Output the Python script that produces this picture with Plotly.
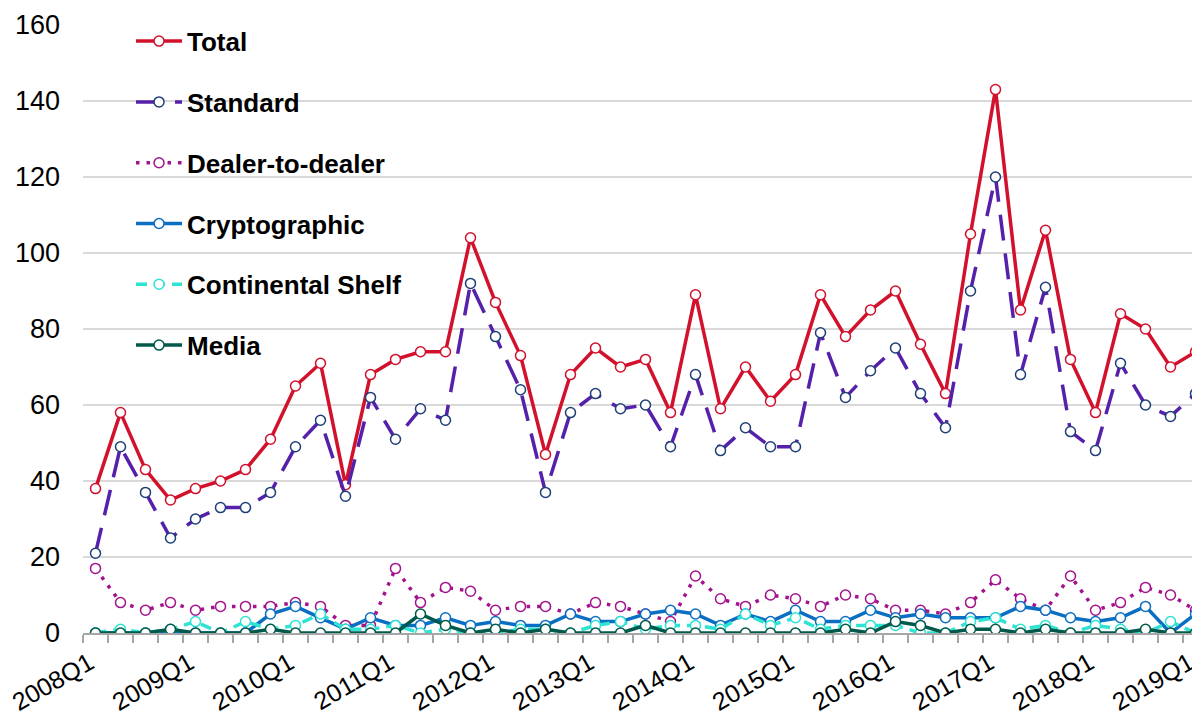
import plotly.graph_objects as go

quarters = [f"{y}Q{q}" for y in range(2008, 2020) for q in range(1, 5)][:45]
tick_labels = ["2008Q1", "2009Q1", "2010Q1", "2011Q1", "2012Q1", "2013Q1",
               "2014Q1", "2015Q1", "2016Q1", "2017Q1", "2018Q1", "2019Q1"]

total = [38, 58, 43, 35, 38, 40, 43, 51, 65, 71, 39, 68, 72, 74, 74, 104,
         87, 73, 47, 68, 75, 70, 72, 58, 89, 59, 70, 61, 68, 89, 78, 85,
         90, 76, 63, 105, 143, 85, 106, 72, 58, 84, 80, 70, 74]
standard = [21, 49, 37, 25, 30, 33, 33, 37, 49, 56, 36, 62, 51, 59, 56, 92,
            78, 64, 37, 58, 63, 59, 60, 49, 68, 48, 54, 49, 49, 79, 62, 69,
            75, 63, 54, 90, 120, 68, 91, 53, 48, 71, 60, 57, 63]
dealer = [17, 8, 6, 8, 6, 7, 7, 7, 8, 7, 2, 2, 17, 8, 12, 11,
          6, 7, 7, 5, 8, 7, 5, 3, 15, 9, 7, 10, 9, 7, 10, 9,
          6, 6, 5, 8, 14, 9, 6, 15, 6, 8, 12, 10, 6]
crypto = [0, 0, 0, 0, 0, 0, 0, 5, 7, 4, 1, 4, 2, 2, 4, 2,
          3, 2, 2, 5, 3, 3, 5, 6, 5, 2, 5, 3, 6, 3, 3, 6,
          4, 5, 4, 4, 4, 7, 6, 4, 3, 4, 7, 0, 5]
shelf = [0, 1, 0, 1, 3, 0, 3, 1, 2, 5, 1, 1, 2, 0, 1, 0,
         0, 1, 1, 0, 2, 3, 1, 2, 2, 1, 5, 2, 4, 1, 2, 2,
         2, 0, 0, 3, 4, 1, 2, 0, 2, 1, 0, 3, 0]
media = [0, 0, 0, 1, 0, 0, 0, 1, 0, 0, 0, 0, 0, 5, 2, 0,
         1, 0, 1, 0, 0, 0, 2, 0, 0, 0, 0, 0, 0, 0, 1, 0,
         3, 2, 0, 1, 1, 0, 1, 0, 0, 0, 1, 0, 0]

series = [
    ("Total", total, "#D2112C", "#D2112C", "solid"),
    ("Standard", standard, "#5520AA", "#1F3F78", "26px,13px"),
    ("Dealer-to-dealer", dealer, "#A3138E", "#A3138E", "3.5px,7px"),
    ("Cryptographic", crypto, "#0A6FC2", "#0A6FC2", "solid"),
    ("Continental Shelf", shelf, "#2EE3D3", "#2EE3D3", "11px,7px"),
    ("Media", media, "#00594A", "#00594A", "solid"),
]

idx = list(range(len(quarters)))
fig = go.Figure()
for name, vals, lc, mc, dash in series:
    fig.add_trace(go.Scatter(
        x=idx, y=vals, name=name, mode="lines+markers", legendgroup=name,
        text=quarters,
        line=dict(color=lc, width=3.5, dash=dash),
        marker=dict(symbol="circle", size=10, color="white",
                    line=dict(color=mc, width=1.5)),
    ))

tickvals = [quarters.index(t) for t in tick_labels]

# page body has an 8px margin: figure is sized so it ends at the window edge
fig.update_layout(
    width=1192, height=714,
    margin=dict(l=75, r=0, t=17, b=89, autoexpand=False),
    paper_bgcolor="white", plot_bgcolor="white",
    font=dict(family="Arial, Liberation Sans, sans-serif", color="black"),
    showlegend=True,
    legend=dict(x=0.043, y=1.012, xanchor="left", yanchor="top",
                font=dict(size=26, family="Arial, Liberation Sans, sans-serif",
                          color="black", weight="bold"),
                bgcolor="rgba(0,0,0,0)", tracegroupgap=24, itemwidth=46),
    xaxis=dict(range=[-0.5, 44.18], tickvals=tickvals, ticktext=tick_labels,
               tickangle=-30, ticks="", showgrid=False, zeroline=False,
               showline=True, linecolor="#A6A6A6", linewidth=1.5,
               tickfont=dict(size=25), ticklabeloverflow="allow",
               ticklabelstandoff=4, ticklabelshift=-6, automargin=False,
               minor=dict(ticks="outside", tick0=-0.5, dtick=1, ticklen=8,
                          tickcolor="#A6A6A6", tickwidth=1.5, showgrid=False)),
    yaxis=dict(range=[0, 160], dtick=20, showgrid=True, gridcolor="#D9D9D9",
               gridwidth=1.5, zeroline=False, showline=False, ticks="",
               tickfont=dict(size=27), ticklabelstandoff=22, automargin=False),
)

fig.write_html("out.html")
